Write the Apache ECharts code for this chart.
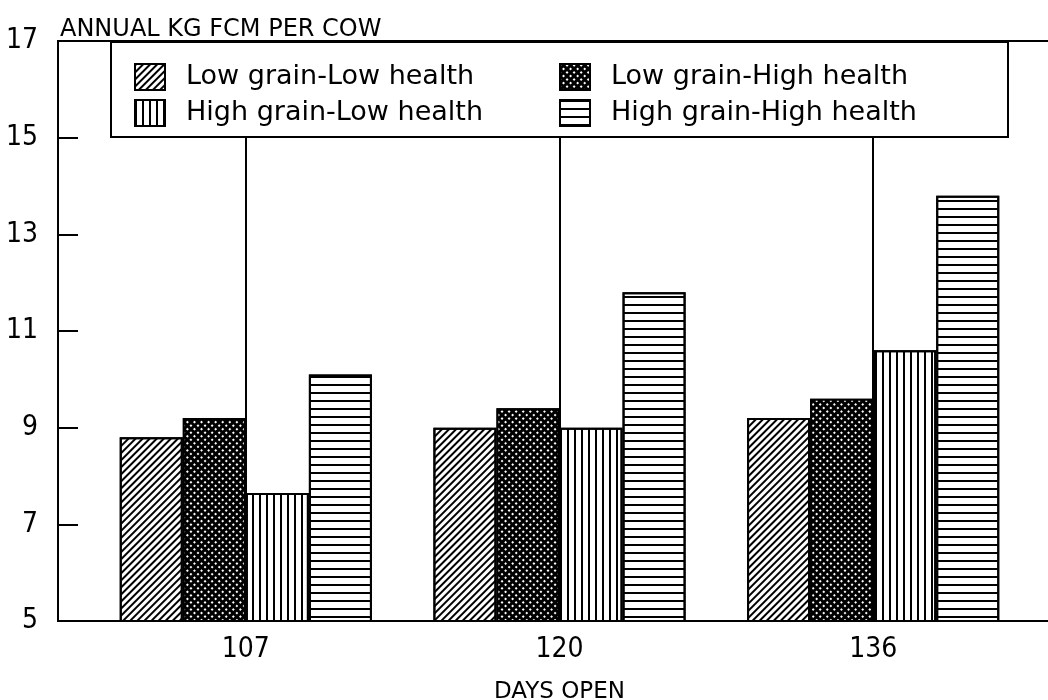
<!DOCTYPE html>
<html>
<head>
<meta charset="utf-8">
<script src="https://cdn.jsdelivr.net/npm/echarts@6/dist/echarts.min.js"></script>
<style>
  html, body { margin: 0; padding: 0; background: #fff; }
  #chart { width: 1048px; height: 700px; }
</style>
</head>
<body>
<div id="chart"></div>
<script>
const categories = ['107', '120', '136']
const yTicks = [5, 7, 9, 11, 13, 15, 17]
const seriesNames = [
  'Low grain-Low health',
  'Low grain-High health',
  'High grain-Low health',
  'High grain-High health'
]
const lowGrainLowHealth = [8.8, 9.0, 9.2]
const lowGrainHighHealth = [9.2, 9.4, 9.6]
const highGrainLowHealth = [7.65, 9.0, 10.6]
const highGrainHighHealth = [10.1, 11.8, 13.8]

const narrowFont = '"Liberation Sans Narrow", "DejaVu Sans Condensed", "Liberation Sans", sans-serif'
const wideFont = '"DejaVu Sans", sans-serif'

// hatch patterns, one per series
const patterns = [
  { color: '#fff', decal: { symbol: 'rect', symbolSize: 1, color: '#000', dashArrayX: [1, 0], dashArrayY: [1.3, 2.8], rotation: -Math.PI / 4 } },
  { color: '#000', decal: { symbol: 'rect', symbolSize: 1, color: '#fff', dashArrayX: [2, 3], dashArrayY: [2, 3], rotation: Math.PI / 4 } },
  { color: '#fff', decal: { symbol: 'rect', symbolSize: 1, color: '#000', dashArrayX: [2, 5], dashArrayY: [1, 0], rotation: 0 } },
  { color: '#fff', decal: { symbol: 'rect', symbolSize: 1, color: '#000', dashArrayX: [1, 0], dashArrayY: [2, 5.7], rotation: 0 } }
]
const values = [lowGrainLowHealth, lowGrainHighHealth, highGrainLowHealth, highGrainHighHealth]

const chart = echarts.init(document.getElementById('chart'))

const series = values.map((data, i) => ({
  name: seriesNames[i],
  type: 'bar',
  xAxisIndex: 1,
  yAxisIndex: 1,
  data,
  barGap: '0%',
  barCategoryGap: '19.6%',
  itemStyle: {
    color: patterns[i].color,
    decal: patterns[i].decal,
    borderColor: '#000',
    borderWidth: 2
  },
  emphasis: { disabled: true }
}))

// vertical lines at the category centres (own series so bar offsets don't apply)
series.push({
  type: 'line',
  xAxisIndex: 1,
  yAxisIndex: 1,
  data: [],
  silent: true,
  markLine: {
    silent: true,
    symbol: 'none',
    label: { show: false },
    lineStyle: { color: '#000', width: 2, type: 'solid' },
    data: categories.map((c) => ({ xAxis: c }))
  }
})

const option = {
  animation: false,
  backgroundColor: '#fff',
  title: {
    text: 'ANNUAL KG FCM PER COW',
    left: 55,
    top: 13,
    textStyle: { fontFamily: wideFont, fontSize: 24, fontWeight: 'normal', color: '#000' }
  },
  legend: {
    data: seriesNames,
    left: 111,
    top: 42,
    width: 850,
    z: 50,
    zlevel: 1,
    orient: 'horizontal',
    icon: 'rect',
    padding: [21, 32, 10, 23],
    backgroundColor: '#fff',
    borderColor: '#000',
    borderWidth: 2,
    itemWidth: 30,
    itemHeight: 26,
    itemGap: 8,
    selectedMode: false,
    textStyle: {
      fontFamily: wideFont,
      fontSize: 27,
      color: '#000',
      width: 365,
      lineHeight: 26,
      padding: [0, 0, 0, 16]
    }
  },
  grid: [
    { left: 58, top: 41, right: -5, bottom: 79, outerBoundsMode: 'none', show: true, borderColor: '#000', borderWidth: 2, backgroundColor: 'transparent' },
    { left: 89, top: 41, right: 18, bottom: 79, outerBoundsMode: 'none' }
  ],
  xAxis: [
    { type: 'value', gridIndex: 0, show: false, min: 0, max: 1 },
    {
      type: 'category',
      gridIndex: 1,
      data: categories,
      axisLine: { show: false },
      axisTick: { show: false },
      splitLine: { show: false },
      axisLabel: { color: '#000', fontFamily: narrowFont, fontSize: 28, margin: 15 },
      name: 'DAYS OPEN',
      nameLocation: 'middle',
      nameMoveOverlap: false,
      nameGap: 60,
      nameTextStyle: { color: '#000', fontFamily: wideFont, fontSize: 23 }
    }
  ],
  yAxis: [
    {
      type: 'value',
      gridIndex: 0,
      min: yTicks[0],
      max: yTicks[yTicks.length - 1],
      interval: yTicks[1] - yTicks[0],
      axisLine: { show: true, lineStyle: { color: '#000', width: 2 } },
      axisTick: { show: true, inside: true, length: 20, lineStyle: { color: '#000', width: 2 } },
      splitLine: { show: false },
      axisLabel: { color: '#000', fontFamily: narrowFont, fontSize: 28, margin: 20 }
    },
    {
      type: 'value',
      gridIndex: 1,
      min: yTicks[0],
      max: yTicks[yTicks.length - 1],
      interval: yTicks[1] - yTicks[0],
      show: false,
      splitLine: { show: false }
    }
  ],
  series
}

chart.setOption(option)
</script>
</body>
</html>
